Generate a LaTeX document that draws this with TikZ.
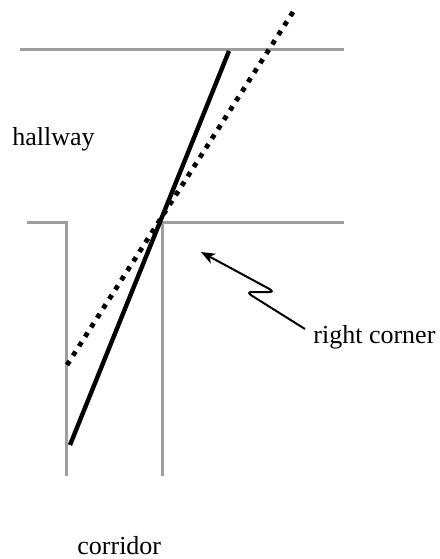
\documentclass[tikz,border=0pt]{standalone}
\usepackage{fontspec}
\setmainfont{Liberation Serif}
\usepackage{tikz}
\usetikzlibrary{positioning,arrows.meta}

\tikzset{
    wall/.style={black!38, line width=1.5pt},
    bar/.style={black, line width=2.2pt},
    barpath/.style={black, line width=2.4pt, dash pattern=on 2.4pt off 3.2pt},
    lbl/.style={font=\fontsize{13}{15}\selectfont, inner sep=0pt}
}

\begin{document}
\begin{tikzpicture}[x=0.5pt, y=-0.5pt]
    \useasboundingbox (0,0) rectangle (440,559);

    % Paredes del pasillo
    \coordinate (hl) at (20,49.5);
    \coordinate (hr) at (344,49.5);
    \coordinate (lt) at (27,222);
    \coordinate (lc) at (67,222);
    \coordinate (lb) at (67,476);
    \coordinate (rc) at (163,222);
    \coordinate (rb) at (163,476);
    \coordinate (rt) at (344,222);
    \draw[wall] (hl) -- (hr);
    \draw[wall] (lt) -- (lc) -- (lb);
    \draw[wall] (rb) -- (rc) -- (rt);

    % Barra y su trayectoria
    \coordinate (b1) at (229,51);
    \coordinate (b2) at (70,445);
    \coordinate (d1) at (293,12);
    \coordinate (d2) at (67,365);
    \draw[bar] (b1) -- (b2);
    \draw[barpath] (d1) -- (d2);

    % Etiquetas
    \node[lbl, anchor=west] (hall) at (12,139) {hallway};
    \node[lbl, anchor=west] (corner) at (313,337) {right corner};
    \node[lbl, anchor=west] (corr) at (77,546) {corridor};

    % Flecha hacia la esquina
    \coordinate (ar) at (305,329);
    \coordinate (tip) at (201,252);
    \draw[-{Stealth[length=7pt,width=5.5pt,inset=2pt]}, line width=1pt, rounded corners=3pt]
        (ar) -- (246,292) -- (275,292) -- (tip);

\end{tikzpicture}
\end{document}
